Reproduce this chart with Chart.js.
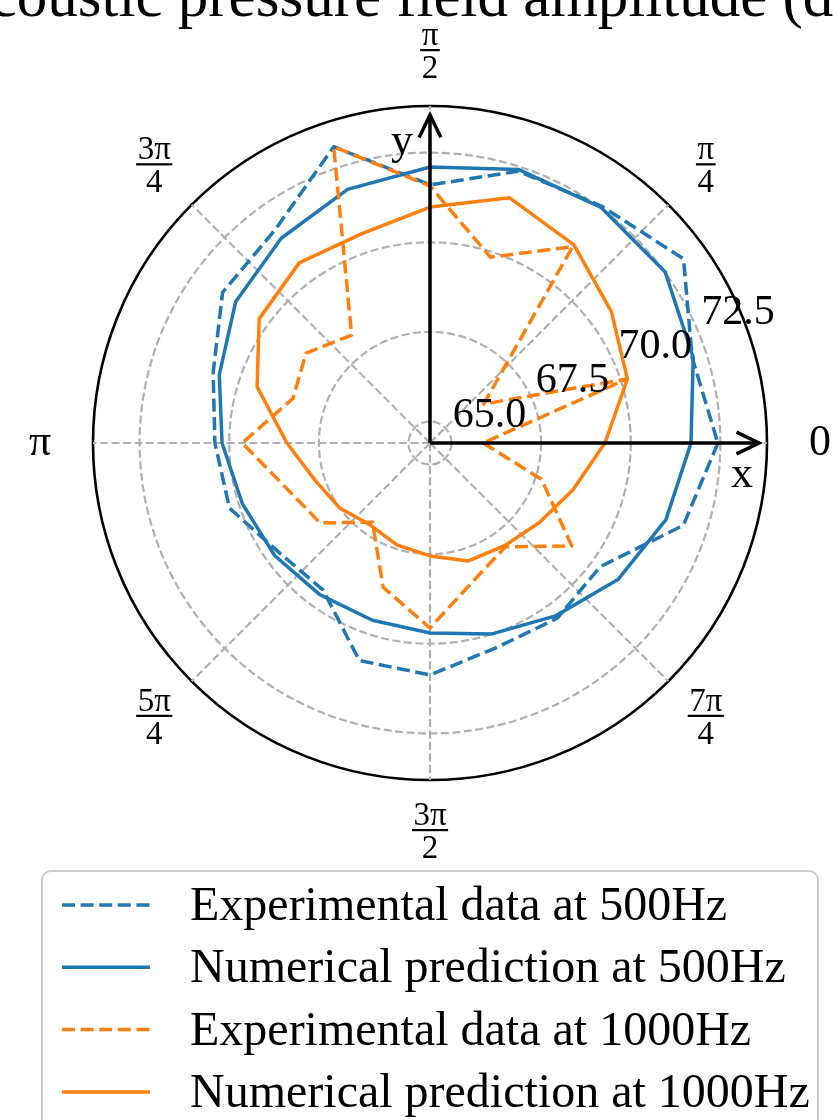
<!DOCTYPE html>
<html>
<head>
<meta charset="utf-8">
<script src="https://cdn.jsdelivr.net/npm/chart.js@4.4.0/dist/chart.umd.min.js"></script>
<style>
  html, body { margin: 0; padding: 0; background: #fff; }
</style>
</head>
<body>
<canvas id="polarChart" width="833" height="1120"></canvas>
<script>
// measurement angles (deg, counter-clockwise from x axis)
const angles = [0, 18, 36, 54, 72, 90, 108, 126, 144, 162, 180, 198, 216, 234, 252, 270, 288, 306, 324, 342]

// pressure amplitude (dB)
const exp500 = [72.43, 72.09, 73.14, 72.56, 72.37, 71.60, 73.09, 71.75, 71.55, 70.76, 70.40, 70.28, 69.60, 69.47, 70.78, 70.87, 70.40, 70.44, 70.27, 71.83]
const num500 = [71.68, 72.12, 72.51, 72.52, 72.42, 72.10, 71.84, 71.46, 71.10, 70.58, 70.20, 69.90, 69.75, 69.63, 69.60, 69.70, 70.00, 70.36, 70.88, 71.32]
const exp1000 = [65.88, 70.17, 66.25, 71.17, 69.85, 71.57, 73.09, 68.12, 68.67, 68.42, 69.64, 68.58, 68.19, 67.13, 68.63, 69.56, 68.41, 67.98, 69.29, 67.67]
const num1000 = [69.28, 70.19, 70.65, 71.23, 71.59, 70.98, 70.54, 70.61, 70.29, 69.47, 68.39, 67.77, 67.50, 67.23, 67.39, 67.55, 67.86, 67.94, 68.17, 68.60]

const seriesNames = ['Experimental data at 500Hz', 'Numerical prediction at 500Hz', 'Experimental data at 1000Hz', 'Numerical prediction at 1000Hz']

const rTicks = [65.0, 67.5, 70.0, 72.5]
const rMin = 64.4
const rMax = 73.8

const thetaTickAngles = [0, 45, 90, 135, 180, 225, 270, 315]
const thetaTickLabels = ['0', 'π/4', 'π/2', '3π/4', 'π', '5π/4', '3π/2', '7π/4']

const titleText = 'Acoustic pressure field amplitude (dB)'

const FONT = '"Liberation Serif", "DejaVu Serif", serif'
const BLUE = '#1f77b4'
const ORANGE = '#ff7f0e'
const GRID = '#b0b0b0'
const DASH = [13, 5.6]
const GRID_DASH = [8, 3.5]

// radar slots every 9 deg so the 45 deg grid lines fall on a slot
const step = 9
const nSlots = 360 / step
const slotLabels = Array.from({length: nSlots}, (_, i) => String((360 - i * step) % 360))

function toSlots(values) {
    const out = new Array(nSlots).fill(null)
    angles.forEach((a, k) => { out[((360 - a) % 360) / step] = values[k] })
    return out
}

function line(label, values, color, dashed, order) {
    return {
        label: label,
        data: toSlots(values),
        borderColor: color,
        backgroundColor: color,
        borderWidth: 3.5,
        borderDash: dashed ? DASH : [],
        borderJoinStyle: 'round',
        fill: false,
        spanGaps: true,
        pointRadius: 0,
        pointHoverRadius: 0,
        order: order
    }
}

const isOuter = c => c.tick && Math.abs(c.tick.value - rMax) < 1e-6

function arrow(ctx, x0, y0, x1, y1) {
    const a = Math.atan2(y1 - y0, x1 - x0), L = 25, h = 0.45
    ctx.beginPath(); ctx.moveTo(x0, y0); ctx.lineTo(x1, y1); ctx.stroke()
    ctx.beginPath()
    ctx.moveTo(x1 - L * Math.cos(a - h), y1 - L * Math.sin(a - h))
    ctx.lineTo(x1, y1)
    ctx.lineTo(x1 - L * Math.cos(a + h), y1 - L * Math.sin(a + h))
    ctx.stroke()
}

function thetaLabel(ctx, label, x, y) {
    const parts = label.split('/')
    ctx.textAlign = 'center'
    if (parts.length === 1) {
        ctx.font = '44px ' + FONT
        ctx.textBaseline = 'middle'
        ctx.fillText(label, x, y)
        return
    }
    ctx.font = '33px ' + FONT
    ctx.textBaseline = 'alphabetic'
    const w = Math.max(ctx.measureText(parts[0]).width, ctx.measureText(parts[1]).width) + 3
    const barY = y - 3
    ctx.fillRect(x - w / 2, barY - 1, w, 2.2)
    ctx.fillText(parts[0], x, barY - 5)
    ctx.fillText(parts[1], x, barY + 28)
}

const polarDecor = {
    id: 'polarDecor',
    afterDatasetsDraw(chart) {
        const ctx = chart.ctx
        const r = chart.scales.r
        const xc = r.xCenter, yc = r.yCenter, R = r.drawingArea
        ctx.save()
        ctx.fillStyle = '#000'
        ctx.strokeStyle = '#000'

        // x / y arrows
        ctx.lineWidth = 3.5
        ctx.setLineDash([])
        ctx.lineCap = 'butt'
        ctx.lineJoin = 'miter'
        arrow(ctx, xc, yc, xc + R - 8, yc)
        arrow(ctx, xc, yc, xc, yc - R + 9)
        ctx.font = '44px ' + FONT
        ctx.textAlign = 'center'
        ctx.textBaseline = 'middle'
        ctx.fillText('x', xc + R - 25, yc + 32)
        ctx.fillText('y', xc - 28, yc - R + 36)

        // radial tick labels along 22.5 deg
        const ra = 22.5 * Math.PI / 180
        ctx.font = '42px ' + FONT
        ctx.textAlign = 'left'
        ctx.textBaseline = 'alphabetic'
        rTicks.forEach(v => {
            const d = r.getDistanceFromCenterForValue(v)
            ctx.fillText(v.toFixed(1), xc + d * Math.cos(ra) + 3, yc - d * Math.sin(ra) - 8)
        })

        // angle labels
        thetaTickAngles.forEach((a, i) => {
            const t = a * Math.PI / 180
            thetaLabel(ctx, thetaTickLabels[i], xc + (R + 53) * Math.cos(t), yc - (R + 53) * Math.sin(t))
        })

        // title (cut by the top edge)
        ctx.font = '61px ' + FONT
        ctx.textAlign = 'center'
        ctx.textBaseline = 'alphabetic'
        ctx.fillText(titleText, xc - 10, 16)

        // legend
        ctx.beginPath()
        ctx.roundRect(42, 871, 776, 320, 9)
        ctx.fillStyle = 'rgba(255,255,255,0.8)'
        ctx.fill()
        ctx.strokeStyle = '#cccccc'
        ctx.lineWidth = 2
        ctx.stroke()
        chart.data.datasets.forEach((ds, i) => {
            const y = 905 + i * 62.3
            ctx.strokeStyle = ds.borderColor
            ctx.lineWidth = 3.5
            ctx.setLineDash(ds.borderDash)
            ctx.beginPath()
            ctx.moveTo(62, y)
            ctx.lineTo(150, y)
            ctx.stroke()
            ctx.setLineDash([])
            ctx.fillStyle = '#000'
            ctx.font = '48px ' + FONT
            ctx.textAlign = 'left'
            ctx.fillText(ds.label, 190, y + 15)
        })
        ctx.restore()
    }
}

new Chart(document.getElementById('polarChart').getContext('2d'), {
    type: 'radar',
    data: {
        labels: slotLabels,
        datasets: [
            line(seriesNames[0], exp500, BLUE, true, 3),
            line(seriesNames[1], num500, BLUE, false, 2),
            line(seriesNames[2], exp1000, ORANGE, true, 1),
            line(seriesNames[3], num1000, ORANGE, false, 0)
        ]
    },
    options: {
        responsive: false,
        animation: false,
        events: [],
        layout: { padding: { left: 93, top: 106, right: 66, bottom: 340 } },
        plugins: {
            legend: { display: false },
            tooltip: { enabled: false }
        },
        scales: {
            r: {
                min: rMin,
                max: rMax,
                startAngle: 90,
                afterBuildTicks: s => { s.ticks = [rMin, ...rTicks, rMax].map(v => ({ value: v })) },
                ticks: { display: false },
                pointLabels: { display: false },
                grid: {
                    circular: true,
                    color: c => isOuter(c) ? '#000' : GRID,
                    lineWidth: c => isOuter(c) ? 2.6 : 2.2,
                    borderDash: c => isOuter(c) ? [] : GRID_DASH
                },
                border: { dash: c => isOuter(c) ? [] : GRID_DASH },
                angleLines: {
                    color: c => (c.index * step) % 45 === 0 ? GRID : 'rgba(0,0,0,0)',
                    lineWidth: c => (c.index * step) % 45 === 0 ? 2.2 : 0,
                    borderDash: GRID_DASH
                }
            }
        }
    },
    plugins: [polarDecor]
})
</script>
</body>
</html>
